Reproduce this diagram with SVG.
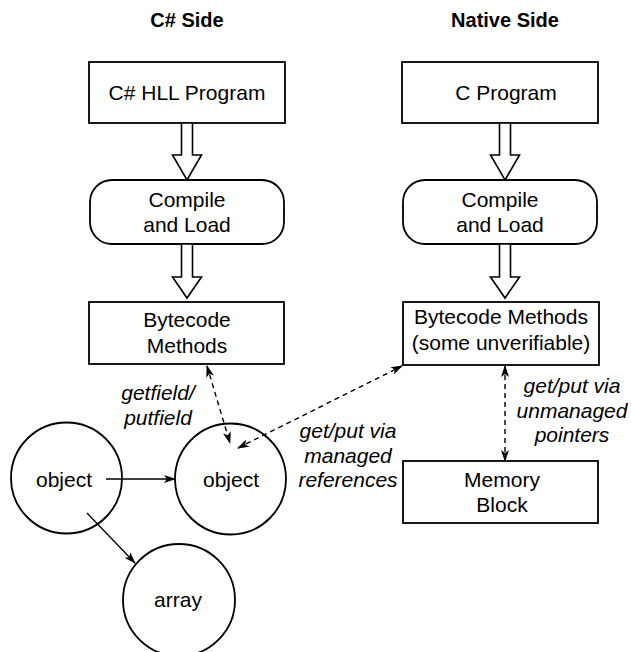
<svg xmlns="http://www.w3.org/2000/svg" width="631" height="652" viewBox="0 0 631 652">
<defs>
<style>
.box{fill:#fff;stroke:#000;stroke-width:1.8}
.t{font-family:"Liberation Sans",Arial,sans-serif;font-size:21px;fill:#000;text-anchor:middle}
.h{font-family:"Liberation Sans",Arial,sans-serif;font-size:20px;font-weight:bold;fill:#000;text-anchor:middle}
.i{font-family:"Liberation Sans",Arial,sans-serif;font-size:21px;font-style:italic;fill:#000;text-anchor:middle}
.hollow{fill:#fff;stroke:#000;stroke-width:1.6;stroke-linejoin:miter}
.solid{stroke:#000;stroke-width:1.6;fill:none}
.thin{stroke:#000;stroke-width:1.3;fill:none}
.dash{stroke:#000;stroke-width:1.4;fill:none;stroke-dasharray:5 4}
</style>
<marker id="ah" viewBox="0 0 12 8" refX="11" refY="4" markerWidth="12" markerHeight="8" markerUnits="userSpaceOnUse" orient="auto-start-reverse">
<path d="M0,0 L12,4 L0,8 L3,4 z" fill="#000"/>
</marker>
</defs>

<text class="h" x="187" y="27">C# Side</text>
<text class="h" x="505" y="27">Native Side</text>

<g id="csharp-program">
<rect class="box" x="89" y="62" width="196" height="61"/>
<text class="t" x="187" y="100">C# HLL Program</text>
</g>
<g id="csharp-compile">
<rect class="box" x="90" y="180" width="194" height="64" rx="22" ry="22"/>
<text class="t" x="187" y="207">Compile</text>
<text class="t" x="187" y="232">and Load</text>
</g>
<g id="csharp-bytecode">
<rect class="box" x="89" y="302" width="195" height="62"/>
<text class="t" x="187" y="327">Bytecode</text>
<text class="t" x="187" y="353">Methods</text>
</g>

<g id="c-program">
<rect class="box" x="402" y="62" width="196" height="61"/>
<text class="t" x="506" y="100">C Program</text>
</g>
<g id="c-compile">
<rect class="box" x="403" y="180" width="194" height="64" rx="22" ry="22"/>
<text class="t" x="500" y="207">Compile</text>
<text class="t" x="500" y="232">and Load</text>
</g>
<g id="native-bytecode">
<rect class="box" x="403" y="302" width="196" height="63"/>
<text class="t" x="501" y="324">Bytecode Methods</text>
<text class="t" x="501" y="350">(some unverifiable)</text>
</g>
<g id="memory-block">
<rect class="box" x="403" y="461" width="195" height="62"/>
<text class="t" x="502" y="487">Memory</text>
<text class="t" x="502" y="512">Block</text>
</g>

<g id="object1">
<circle class="box" cx="66.5" cy="478" r="55.5"/>
<text class="t" x="64" y="487">object</text>
</g>
<g id="object2">
<circle class="box" cx="230.5" cy="479" r="55.5"/>
<text class="t" x="231" y="487">object</text>
</g>
<g id="array">
<circle class="box" cx="179" cy="600" r="56"/>
<text class="t" x="178" y="607">array</text>
</g>

<g id="connectors">
<path class="hollow" d="M181.5,123 V155 H172.5 L187,180 L201.5,155 H192.5 V123 Z"/>
<path class="hollow" d="M181.5,244 V277 H172.5 L187,298 L201.5,277 H192.5 V244 Z"/>
<path class="hollow" d="M499.5,123 V155 H490.5 L505,180 L519.5,155 H510.5 V123 Z"/>
<path class="hollow" d="M499.5,244 V277 H490.5 L505,298 L519.5,277 H510.5 V244 Z"/>

<line class="solid" x1="106" y1="479" x2="175" y2="479" marker-end="url(#ah)"/>
<line class="thin" x1="87" y1="513" x2="135" y2="563" marker-end="url(#ah)"/>

<line class="dash" x1="207" y1="366" x2="230" y2="443" marker-start="url(#ah)" marker-end="url(#ah)"/>
<line class="dash" x1="238" y1="448" x2="402" y2="366" marker-start="url(#ah)" marker-end="url(#ah)"/>
<line class="dash" x1="505" y1="366" x2="505" y2="461" marker-start="url(#ah)" marker-end="url(#ah)"/>
</g>

<text class="i" x="158" y="400">getfield/</text>
<text class="i" x="158" y="425">putfield</text>
<text class="i" x="348" y="438">get/put via</text>
<text class="i" x="348" y="463">managed</text>
<text class="i" x="348" y="487">references</text>
<text class="i" x="572" y="393">get/put via</text>
<text class="i" x="572" y="418">unmanaged</text>
<text class="i" x="572" y="442">pointers</text>
</svg>
